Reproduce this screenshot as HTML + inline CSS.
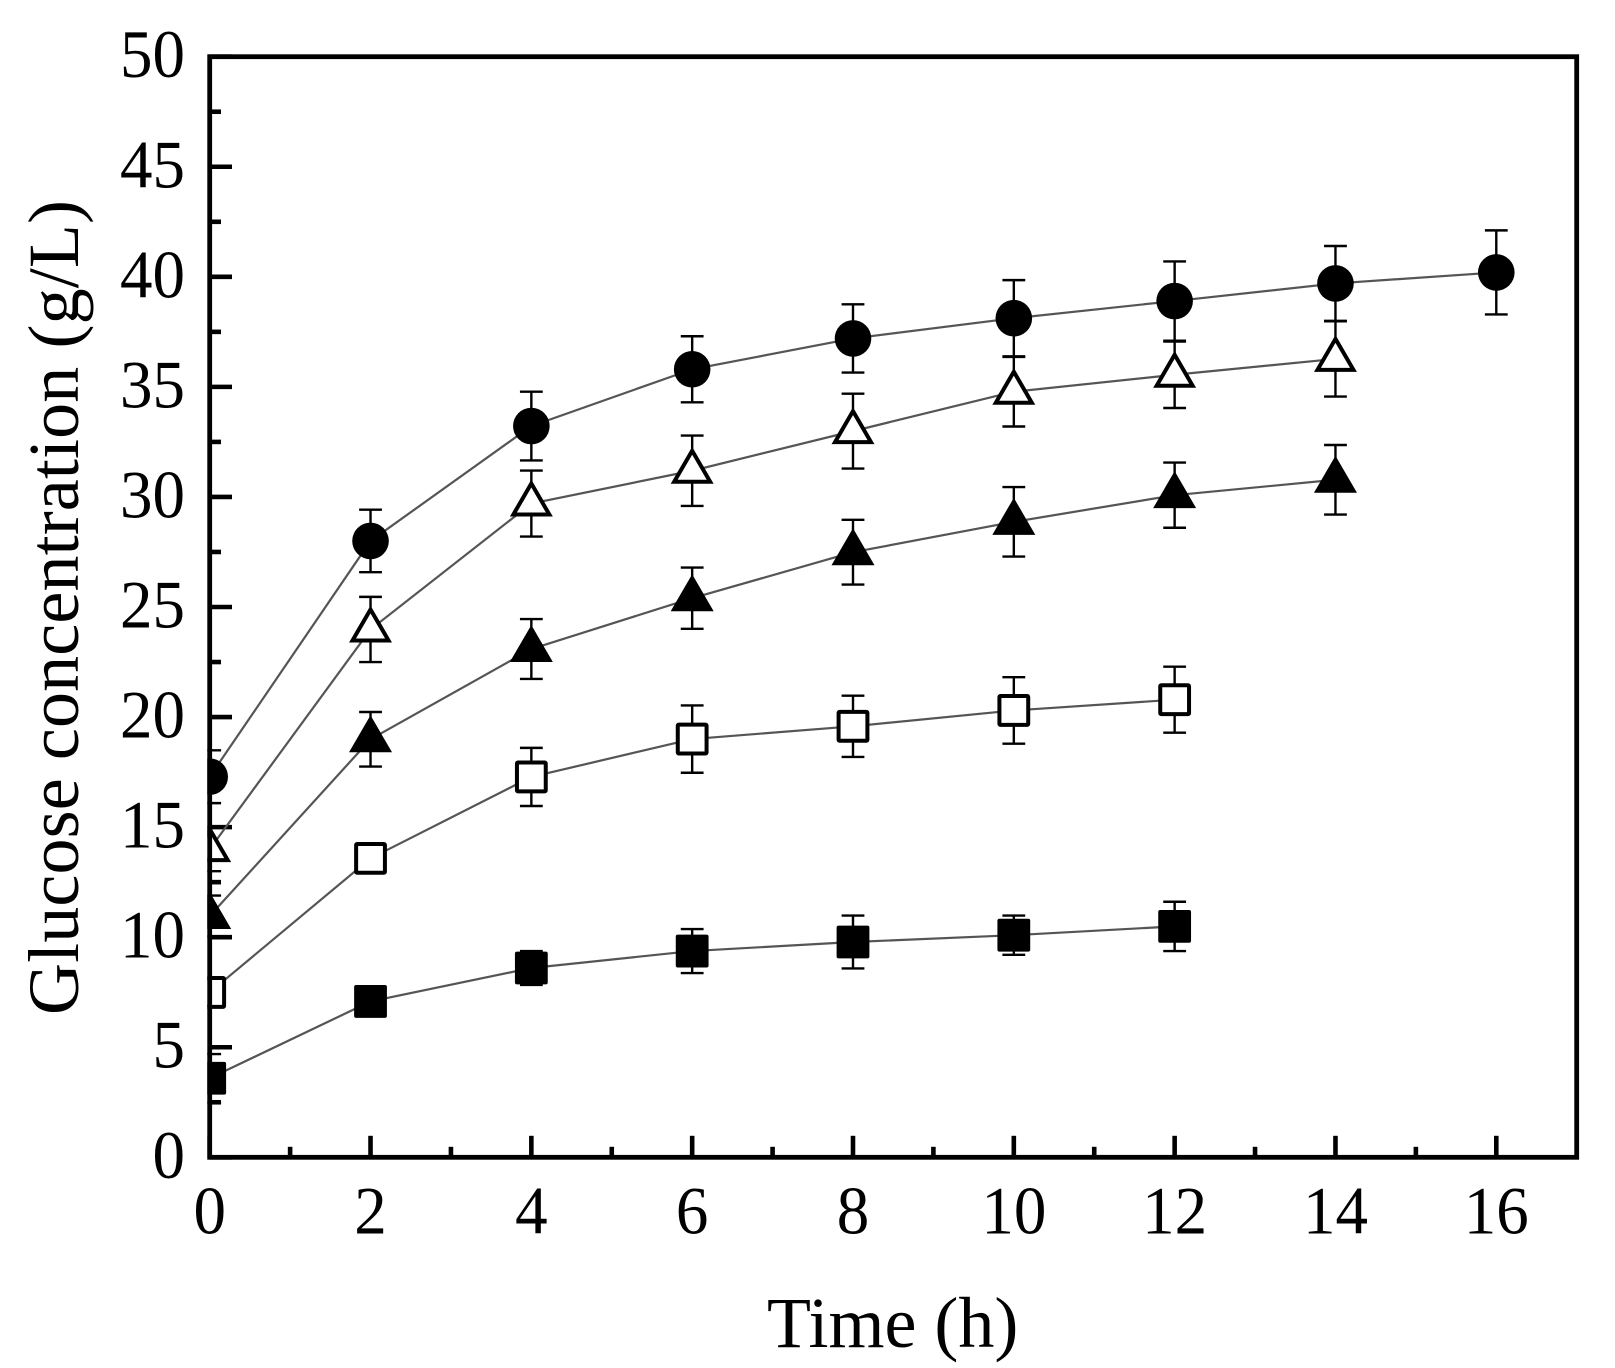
<!DOCTYPE html>
<html lang="en">
<head>
<meta charset="utf-8">
<title>Glucose concentration over time</title>
<style>
html,body{margin:0;padding:0;background:#fff;}
svg{display:block;}
text{font-family:"Liberation Serif",serif;fill:#000;}
</style>
</head>
<body>
<svg id="chart" xmlns="http://www.w3.org/2000/svg" width="1615" height="1368" viewBox="0 0 1615 1368">
  <rect x="0" y="0" width="1615" height="1368" fill="#fff"/>
  <defs>
    <clipPath id="plot-clip"><rect x="207.3" y="54" width="1372" height="1106"/></clipPath>
  </defs>
  <g id="tick-layer"></g>
  <g id="series-layer" clip-path="url(#plot-clip)"></g>
  <rect x="209.7" y="56.7" width="1367" height="1100.6" fill="none" stroke="#000" stroke-width="4.8"/>
  <g id="label-layer"></g>
  <text x="767" y="1347" font-size="72">Time (h)</text>
  <text transform="translate(78 1015) rotate(-90)" x="0" y="0" font-size="72" textLength="815" lengthAdjust="spacing">Glucose concentration (g/L)</text>
</svg>
<script>
const times = [0, 2, 4, 6, 8, 10, 12, 14, 16];

const circleValues = [17.29, 28.0, 33.22, 35.8, 37.2, 38.12, 38.9, 39.7, 40.2];
const circleErrors = [1.2, 1.42, 1.56, 1.5, 1.55, 1.73, 1.8, 1.7, 1.91];

const openTriangleValues = [14.0, 23.98, 29.7, 31.19, 32.99, 34.78, 35.55, 36.27];
const openTriangleErrors = [1.0, 1.48, 1.5, 1.6, 1.7, 1.58, 1.51, 1.71];

const filledTriangleValues = [10.96, 18.99, 23.09, 25.4, 27.49, 28.87, 30.08, 30.78];
const filledTriangleErrors = [0.93, 1.24, 1.36, 1.39, 1.47, 1.58, 1.48, 1.58];

const openSquareValues = [7.49, 13.58, 17.28, 19.0, 19.58, 20.3, 20.79];
const openSquareErrors = [0.6, 0.6, 1.32, 1.53, 1.39, 1.51, 1.5];

const filledSquareValues = [3.59, 7.08, 8.6, 9.37, 9.78, 10.09, 10.49];
const filledSquareErrors = [1.1, 0.6, 0.77, 1.0, 1.2, 0.89, 1.12];

const xMajorTicks = [0, 2, 4, 6, 8, 10, 12, 14, 16];
const xMinorTicks = [1, 3, 5, 7, 9, 11, 13, 15];
const yMajorTicks = [0, 5, 10, 15, 20, 25, 30, 35, 40, 45, 50];
const yMinorTicks = [2.5, 7.5, 12.5, 17.5, 22.5, 27.5, 32.5, 37.5, 42.5, 47.5];

const SVG_NS = 'http://www.w3.org/2000/svg';
const xAxisMin = 0, xAxisMax = 17, yAxisMin = 0, yAxisMax = 50;
const plotLeft = 209.7, plotRight = 1576.7, plotTop = 56.7, plotBottom = 1157.3;
const digitWidth = 32.5;

function xScale(v) { return plotLeft + (v - xAxisMin) / (xAxisMax - xAxisMin) * (plotRight - plotLeft); }
function yScale(v) { return plotBottom - (v - yAxisMin) / (yAxisMax - yAxisMin) * (plotBottom - plotTop); }

function make(tag, attrs, parent) {
  const el = document.createElementNS(SVG_NS, tag);
  for (const k in attrs) el.setAttribute(k, attrs[k]);
  parent.appendChild(el);
  return el;
}

const tickLayer = document.getElementById('tick-layer');
const labelLayer = document.getElementById('label-layer');
const seriesLayer = document.getElementById('series-layer');

xMajorTicks.forEach(function (t) {
  const x = xScale(t);
  const tick = make('line', { x1: x, x2: x, y1: plotBottom, y2: plotBottom - 21.5, stroke: '#000', 'stroke-width': 4.6 }, tickLayer);
  
  
  const label = make('text', { x: x, y: 1233.7, 'font-size': 68, 'text-anchor': 'middle', textLength: digitWidth * String(t).length, lengthAdjust: 'spacingAndGlyphs' }, labelLayer);
  label.textContent = String(t);
  
  
});

xMinorTicks.forEach(function (t) {
  const x = xScale(t);
  const tick = make('line', { x1: x, x2: x, y1: plotBottom, y2: plotBottom - 10.5, stroke: '#000', 'stroke-width': 4.6 }, tickLayer);
  
  
});

yMajorTicks.forEach(function (t) {
  const y = yScale(t);
  const tick = make('line', { x1: plotLeft, x2: plotLeft + 22.3, y1: y, y2: y, stroke: '#000', 'stroke-width': 4.6 }, tickLayer);
  
  
  const label = make('text', { x: 185, y: y + 20.5, 'font-size': 68, 'text-anchor': 'end', textLength: digitWidth * String(t).length, lengthAdjust: 'spacingAndGlyphs' }, labelLayer);
  label.textContent = String(t);
  
  
});

yMinorTicks.forEach(function (t) {
  const y = yScale(t);
  const tick = make('line', { x1: plotLeft, x2: plotLeft + 11.3, y1: y, y2: y, stroke: '#000', 'stroke-width': 4.6 }, tickLayer);
  
  
});

function drawMarker(shape, filled, cx, cy, parent) {
  if (shape === 'circle') {
    return make('circle', { cx: cx, cy: cy, r: 18.3, fill: '#000' }, parent);
  }
  if (shape === 'square') {
    if (filled) {
      return make('rect', { x: cx - 16.4, y: cy - 16.4, width: 32.8, height: 32.8, rx: 2, fill: '#000' }, parent);
    }
    return make('rect', { x: cx - 14.4, y: cy - 14.4, width: 28.8, height: 28.8, rx: 1, fill: '#fff', stroke: '#000', 'stroke-width': 4 }, parent);
  }
  if (filled) {
    const pts = [[cx, cy - 24], [cx + 21.5, cy + 13], [cx - 21.5, cy + 13]];
    return make('polygon', { points: pts.map(function (p) { return p.join(','); }).join(' '), fill: '#000' }, parent);
  }
  const inner = [[cx, cy - 20], [cx + 18, cy + 11], [cx - 18, cy + 11]];
  return make('polygon', { points: inner.map(function (p) { return p.join(','); }).join(' '), fill: '#fff', stroke: '#000', 'stroke-width': 4, 'stroke-miterlimit': 10 }, parent);
}

function drawSeries(key, values, errors, shape, filled) {
  const group = make('g', {}, seriesLayer);
  
  

  const d = values.map(function (v, i) {
    return (i ? 'L' : 'M') + xScale(times[i]) + ' ' + yScale(v);
  }).join(' ');
  const line = make('path', { d: d, fill: 'none', stroke: '#555', 'stroke-width': 2.2 }, group);
  
  

  values.forEach(function (v, i) {
    const x = xScale(times[i]);
    const hi = yScale(v + errors[i]);
    const lo = yScale(v - errors[i]);
    const errD = 'M' + x + ' ' + hi + 'V' + lo +
      'M' + (x - 11.4) + ' ' + hi + 'H' + (x + 11.4) +
      'M' + (x - 11.4) + ' ' + lo + 'H' + (x + 11.4);
    const bar = make('path', { d: errD, fill: 'none', stroke: '#000', 'stroke-width': 2.4 }, group);
    
    
  });

  values.forEach(function (v, i) {
    const marker = drawMarker(shape, filled, xScale(times[i]), yScale(v), group);
    
    
  });
}

drawSeries('filled-square', filledSquareValues, filledSquareErrors, 'square', true);
drawSeries('open-square', openSquareValues, openSquareErrors, 'square', false);
drawSeries('filled-triangle', filledTriangleValues, filledTriangleErrors, 'triangle', true);
drawSeries('open-triangle', openTriangleValues, openTriangleErrors, 'triangle', false);
drawSeries('filled-circle', circleValues, circleErrors, 'circle', true);
</script>
</body>
</html>
